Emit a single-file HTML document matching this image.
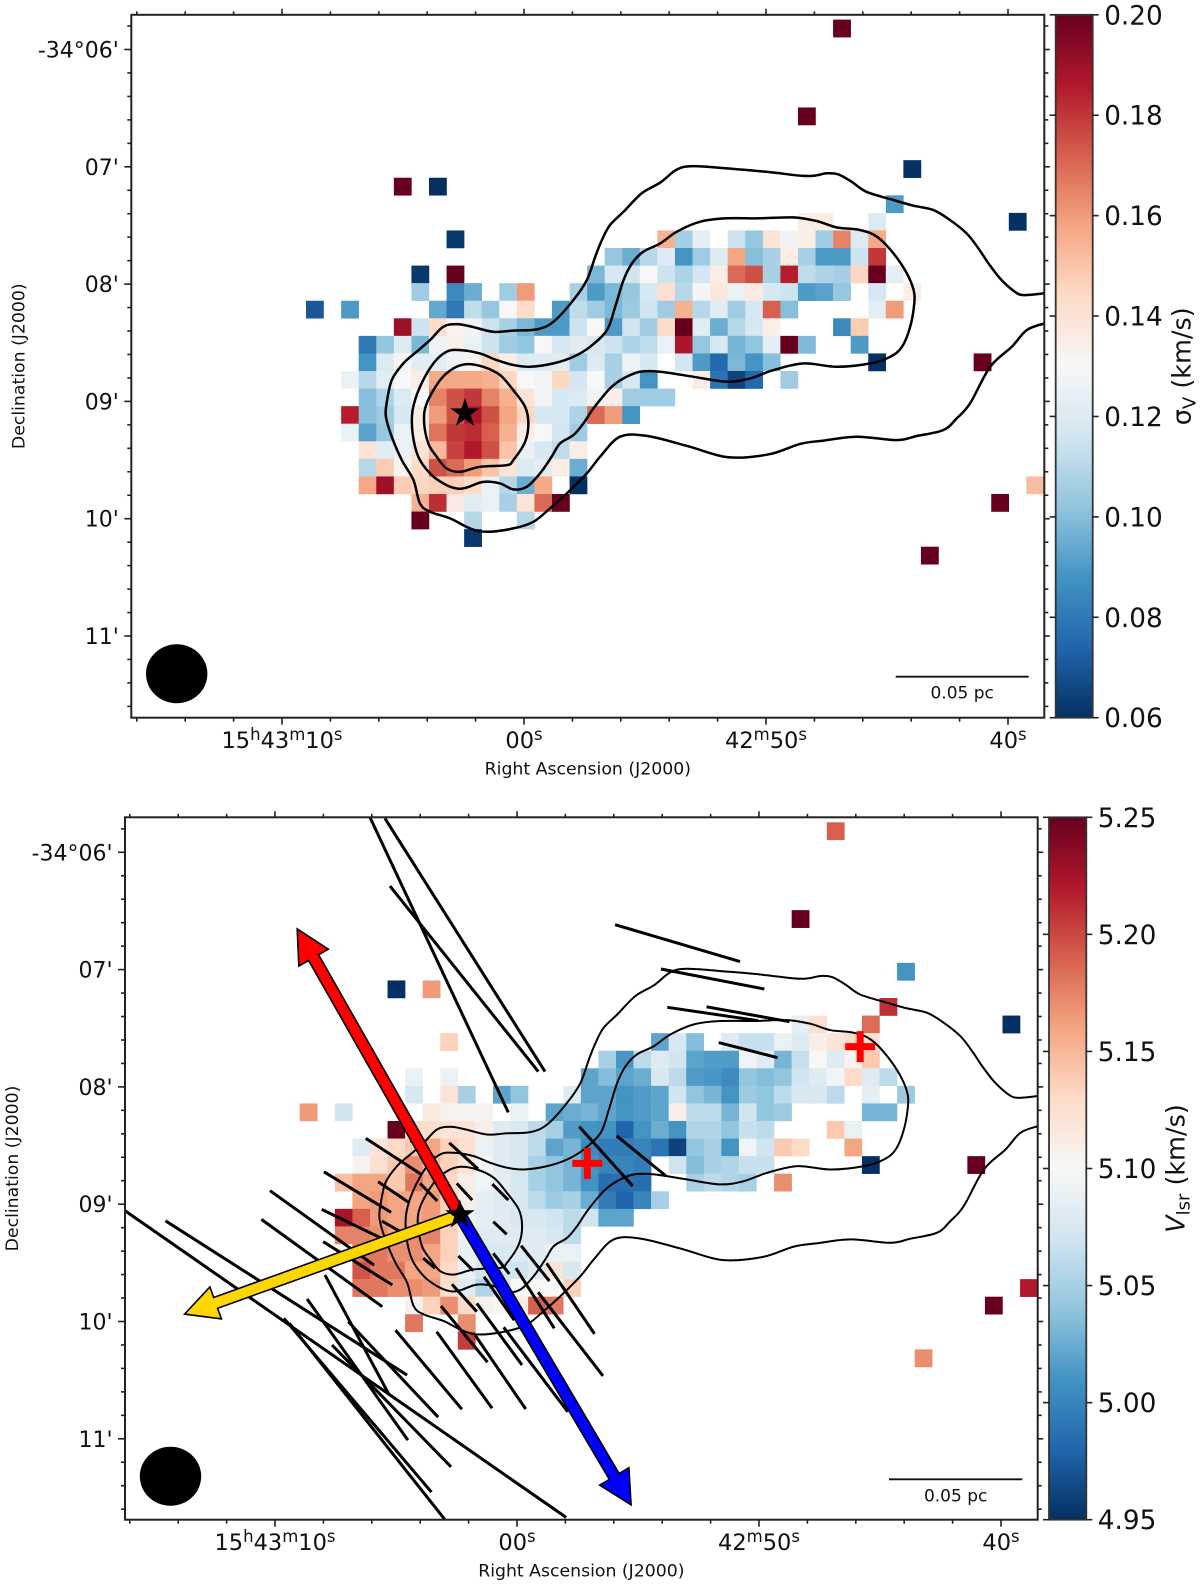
<!DOCTYPE html>
<html lang="en">
<head>
<meta charset="utf-8">
<title>Velocity dispersion and centroid velocity maps</title>
<style>
html,body{margin:0;padding:0;background:#fff;}
svg{display:block;font-family:"DejaVu Sans","Liberation Sans",sans-serif;}
</style>
</head>
<body>
<svg id="figure" xmlns="http://www.w3.org/2000/svg" width="1200" height="1586" viewBox="0 0 1200 1586">
  <defs id="defs"></defs>
  <g id="panel-top"></g>
  <g id="panel-bottom"></g>
</svg>
<script>
// ---------- chart data ----------
const sigmaTicks = [0.06, 0.08, 0.10, 0.12, 0.14, 0.16, 0.18, 0.20];
const sigmaTickLabels = ["0.06", "0.08", "0.10", "0.12", "0.14", "0.16", "0.18", "0.20"];
const vlsrTicks = [4.95, 5.00, 5.05, 5.10, 5.15, 5.20, 5.25];
const vlsrTickLabels = ["4.95", "5.00", "5.05", "5.10", "5.15", "5.20", "5.25"];
const raMajorSeconds = [0, 10, 20, 30];
const raTickLabels = [[["15","h"],["43","m"],["10","s"]], [["00","s"]], [["42","m"],["50","s"]], [["40","s"]]];
const decMajorArcmin = [0, 1, 2, 3, 4, 5];
const decTickLabels = ["-34°06'", "07'", "08'", "09'", "10'", "11'"];

// map rows: [row, firstColumn, value, value, ...]; null = blanked pixel
const sigmaRows = [
[0,30,.20],[5,28,.20],[8,34,.06],[9,5,.20,null,.06],[10,33,.09],
[11,28,.135,.135,null,null,.12],[11,40,.06],
[12,8,.062],[12,20,.155,.106,.123,null,.115,.103,.14,.127,.135,.105,.165,.12,.157],
[13,17,.103,.095,.11,.121,.088,.105,.12,.158,.10,.107,.135,.107,.09,.09,.115,.18],
[14,6,.062,null,.20],[14,16,.098,.118,.116,.13,.115,.108,.117,.135,.17,.175,.107,.185,.112,.108,.106,.145,.20,.123],
[15,6,.105,null,.085,.095,null,.105,.16,null,null,.107,.09,.098,.103,.118,.142,.11,.128,.138,.125,.137,.118,.115,.09,.092,.103,null,.118,null,.135],
[16,0,.07,null,.09],[16,7,.094,.08,.112,.103,.13,.143,null,.09,.112,.105,.098,.104,.116,.105,.155,.11,.122,.105,.118,.172,.10],[16,32,.123,.16],
[17,5,.19,.115,.143,.133,.127,.115,.107,.098,.09,.09,.115,.13,.09,.116,.105,.143,.20,.122,.095,.11,.118,.134],[17,30,.085,.148],
[18,3,.08,.102,.12,.098,.127,.134,.125,.115,.105,.102,.13,.118,.122,.118,.115,.108,.112,.125,.187,.103,.118,.097,.102,.123,.20,.099],[18,31,.09],
[19,3,.088,.12,.128,.122,.122,.127,.132,.145,.135,.12,.121,.122,.105,.12,.107,.127,.118,null,.117,.09,.075,.098,.088,.10],[19,32,.06],[19,38,.20],
[20,2,.125,.11,.122,.13,.135,.157,.157,.157,.155,.145,.13,.128,.145,.117,.13,.107,.118,.088,null,null,.135,.078,.065,.075,null,.105],
[21,3,.10,.108,.12,.13,.165,.175,.18,.165,.155,.14,.128,.118,.12,.127,.135,.105,.105,.105],
[22,2,.185,.10,.105,.118,.135,.16,.175,.187,.175,.158,.145,.118,.118,.108,.17,.16,.088],
[23,2,.125,.092,.103,.125,.135,.168,.18,.182,.172,.155,.135,.13,.117,.105],
[24,3,.14,.122,.125,.14,.153,.178,.186,.175,.15,.125,.118,.112,.135],
[25,3,.11,.148,.132,.143,.175,.17,.16,.15,.14,.12,.122,.135,.095],
[26,3,.157,.19,.148,.145,.147,.147,.143,.125,.11,.095,.157,null,.06],[26,41,.152],
[27,6,.155,.182,.136,.122,.125,.107,.14,.17,.20],[27,39,.20],
[28,6,.20,null,null,.11,null,null,.11],[29,9,.062],[30,35,.20]
];

const vlsrRows = [
[0,30,5.19],[5,28,5.25],[8,34,5.01],[9,5,4.95,null,5.165],[10,33,5.21],
[11,28,5.085,5.125,null,null,5.185],[11,40,4.95],
[12,8,5.135],[12,20,5.02,5.075,5.035,null,5.08,5.065,5.065,5.09,5.08,5.11,5.12,5.13,5.125],
[13,17,5.05,5.012,5.06,5.08,5.07,5.02,5.015,5.015,5.095,5.08,5.03,5.065,5.10,5.08,5.105,5.14],
[14,6,5.09,null,5.09],[14,16,5.02,5.035,5.02,5.025,5.075,5.06,5.015,5.012,5.005,5.04,5.035,5.04,5.07,5.08,5.095,5.13,5.08,5.06],
[15,6,5.075,null,5.12,5.05,null,5.02,5.04,null,null,5.08,5.02,5.02,5.01,5.015,5.02,5.07,5.04,5.03,5.01,5.045,5.04,5.06,5.075,5.075,5.06,null,5.085,null,5.045],
[16,0,5.165,null,5.07],[16,7,5.115,5.105,5.105,5.105,null,5.09,null,5.02,5.025,5.03,5.02,5.01,5.015,5.02,5.11,5.06,5.06,5.03,5.07,5.04,5.045],[16,32,5.03,5.03],
[17,5,5.25,5.13,5.125,5.12,5.12,5.11,5.08,5.075,5.06,5.05,5.015,5.01,5.01,4.98,5.01,5.025,5.01,5.055,5.055,5.04,5.065,5.06],[17,30,5.14,5.09],
[18,3,5.08,5.12,5.13,5.14,5.16,5.135,5.125,5.09,5.08,5.075,5.06,5.02,5.03,5.005,4.995,4.995,5.0,4.99,4.96,5.04,5.05,5.01,5.095,5.07,5.14,5.13],[18,31,5.16],
[19,3,5.105,5.125,5.14,5.17,5.15,5.135,5.12,5.095,5.08,5.075,5.05,5.04,5.03,5.01,5.0,5.0,4.995,null,5.07,5.035,5.05,5.055,5.065,5.065],[19,32,4.95],[19,38,5.25],
[20,2,5.145,5.16,5.16,5.14,5.18,5.16,5.13,5.11,5.095,5.085,5.075,5.05,5.04,5.03,5.01,4.985,4.985,4.985,null,null,5.05,5.06,5.055,5.05,null,5.17],
[21,3,5.16,5.165,5.16,5.16,5.165,5.135,5.11,5.085,5.08,5.075,5.06,5.045,5.05,5.025,4.995,4.98,5.0,5.05],
[22,2,5.225,5.19,5.165,5.16,5.16,5.165,5.135,5.095,5.085,5.08,5.075,5.075,5.07,5.06,5.07,5.02,5.02],
[23,2,5.175,5.175,5.17,5.16,5.17,5.175,5.135,5.09,5.08,5.08,5.08,5.08,5.075,5.06],
[24,3,5.18,5.18,5.17,5.17,5.16,5.135,5.09,5.075,5.075,5.08,5.08,5.09,5.09],
[25,3,5.195,5.18,5.18,5.16,5.16,5.13,5.09,5.07,5.07,5.07,5.08,5.12,5.075],
[26,3,5.18,5.18,5.17,5.17,5.165,5.125,5.08,5.055,5.07,5.10,5.10,5.10,5.135],[26,41,5.22],
[27,6,5.105,5.135,5.17,5.13,5.105,5.10,5.11,5.19,5.18],[27,39,5.25],
[28,6,5.18,null,null,5.17,null,null,5.09],[29,9,5.205],[30,35,5.17]
];

// intensity contours in map (column, row) coordinates
const contourOuter = [[42.03,15.58],[40.83,15.68],[40.26,15.43],[39.5,14.73],[38.84,13.87],[38.27,13.02],[37.6,12.17],[36.66,11.41],[35.71,10.84],[34.57,10.59],[33.43,10.27],[31.9,9.8],[31.06,9.23],[30.3,8.81],[29.64,8.75],[28.97,8.88],[28.2,8.89],[26.2,8.66],[23.96,8.47],[22.06,8.34],[21.11,8.53],[20.16,9.28],[19.1,9.89],[18.07,10.94],[17.3,11.69],[16.84,12.55],[16.46,13.5],[15.98,14.83],[15.22,15.96],[14.08,17.2],[13.13,17.63],[11.8,17.7],[10.66,17.77],[9.43,17.48],[8.58,17.33],[7.82,17.48],[7.06,18.24],[6.3,18.9],[5.54,19.57],[4.88,20.52],[4.59,21.85],[4.55,22.6],[4.88,23.74],[5.45,25.07],[6.11,26.2],[6.49,27.54],[7.06,28.01],[8.2,28.39],[9.34,28.96],[10.28,29.15],[11.8,28.96],[12.94,28.58],[13.89,27.82],[14.84,26.97],[15.98,25.83],[16.74,24.88],[17.87,23.74],[19.44,23.7],[21.74,24.28],[24.04,24.91],[26.35,24.74],[28.12,24.15],[29.45,23.96],[31.35,23.74],[33.62,23.93],[34.76,23.7],[36.28,23.36],[37.04,22.69],[37.8,21.84],[38.94,19.76],[40.17,18.62],[41.02,17.67],[42.03,17.29]];
const contourMiddle = [[14.08,19.57],[15.22,19.19],[16.17,18.62],[17.13,17.67],[17.6,16.34],[18.07,14.83],[18.55,13.88],[19.2,13.21],[20.16,12.74],[21.11,12.07],[22.44,11.5],[23.96,11.31],[25.85,11.31],[27.75,11.26],[29.08,11.47],[30.22,11.83],[31.55,11.98],[32.5,12.36],[33.44,13.31],[34.2,14.45],[34.58,15.39],[34.62,16.15],[34.39,17.48],[33.92,18.62],[33.25,19.19],[32.12,19.57],[30.22,19.76],[28.32,19.57],[26.61,19.95],[25.28,20.42],[23.96,20.61],[22.06,20.33],[20.16,20.04],[19.02,20.04],[18.07,20.42],[17.3,20.99],[16.36,22.13],[15.79,22.98],[15.22,23.65],[14.46,24.12],[13.98,24.88],[13.32,25.83],[12.56,26.59],[11.8,26.74],[11.04,26.4],[10.09,26.31],[9.15,26.63],[8.58,26.69],[7.82,26.4],[7.06,25.83],[6.39,24.88],[6.07,23.55],[6.07,22.23],[6.49,20.9],[7.25,19.57],[8.0,18.9],[8.77,18.81],[9.9,19.0],[10.85,19.38],[11.8,19.66],[12.75,19.76]];
const contourInner = [[6.72,22.89],[6.87,21.85],[7.63,20.52],[8.39,19.85],[9.15,19.61],[10.09,19.76],[11.04,20.23],[11.8,21.09],[12.47,22.04],[12.66,22.98],[12.47,24.03],[11.8,25.07],[11.42,25.36],[9.9,25.45],[8.77,25.74],[8.0,25.55],[7.44,24.88],[6.96,24.12]];

// polarization segments: [col1, row1, col2, row2]
const polarizationSegments = [
[4.0,-0.28,11.87,16.51],[4.85,-0.23,13.96,14.19],[5.14,3.63,13.58,14.19],[17.95,5.83,25.06,7.93],[20.56,8.35,26.44,9.49],
[20.92,10.53,26.1,11.29],[23.16,10.5,27.87,11.35],[23.85,12.54,27.2,13.4],[15.91,17.32,18.95,20.7],[18.04,17.85,20.85,20.13],
[3.76,17.99,6.9,20.02],[1.38,19.89,5.2,22.2],[4.47,20.46,6.24,21.65],[8.51,18.24,10.15,19.73],[6.32,18.12,7.7,19.11],
[6.85,20.55,7.83,21.55],[8.94,20.55,9.82,21.5],[10.96,20.59,11.87,21.5],[11.02,22.73,11.78,23.45],[4.67,22.69,5.81,23.34],
[1.25,22.03,4.67,23.68],[-1.69,20.97,4.23,25.2],[1.34,23.87,5.27,26.33],[-2.18,22.6,4.7,27.57],[7.03,24.81,7.7,25.38],
[9.03,24.68,9.88,25.52],[11.02,24.53,11.93,25.71],[12.6,24.1,14.21,26.11],[14.05,25.1,16.78,29.12],[12.31,25.38,14.49,28.8],
[8.66,26.29,10.08,27.85],[10.49,25.86,12.21,28.33],[13.57,26.75,17.26,31.51],[8.04,27.53,10.69,30.73],[10.08,27.38,12.65,30.89],
[11.61,28.74,15.26,33.55],[9.98,29.18,12.86,33.39],[7.8,28.99,10.95,33.35],[5.45,28.9,9.23,33.41],[2.76,28.42,7.88,33.86],
[1.44,25.77,5.1,32.6],[0.42,27.13,6.16,35.16],[1.84,29.75,8.61,36.68],[-0.9,28.23,7.5,38.13],[-0.59,28.51,8.25,39.67],
[-9.94,22.11,15.16,39.56],[-7.64,22.68,6.11,31.46]
];

const starPositionTop = [9.05, 22.4];
const starPositionBottom = [9.12, 22.35];
const crossPositions = [[31.9, 12.77], [16.37, 19.41]];
const outflowRedTip = [-0.14, 6.07];
const outflowBlueTip = [18.86, 38.85];
const magneticFieldTip = [-6.55, 27.99];

// RdBu_r colormap
const rdbu = [[5,48,97],[33,102,172],[67,147,195],[146,197,222],[209,229,240],[247,247,247],[253,219,199],[244,165,130],[214,96,77],[178,24,43],[103,0,31]];

// ---------- helpers ----------
const NS = "http://www.w3.org/2000/svg";
function make(parent, tag, attrs, text) {
  const el = document.createElementNS(NS, tag);
  for (const k in attrs) el.setAttribute(k, attrs[k]);
  if (text !== undefined) el.textContent = text;
  parent.appendChild(el);
  return el;
}
function colorAt(t) {
  t = Math.max(0, Math.min(1, t)) * 10;
  const i = Math.min(9, Math.floor(t)), f = t - i;
  const a = rdbu[i], b = rdbu[i + 1];
  return "rgb(" + a.map((v, j) => Math.round(v + (b[j] - v) * f)).join(",") + ")";
}
function smoothPath(points, closed, fx, fy) {
  const p = points.map(q => [fx(q[0]), fy(q[1])]);
  const n = p.length;
  const at = i => closed ? p[(i + n) % n] : p[Math.max(0, Math.min(n - 1, i))];
  let d = "M" + p[0][0].toFixed(1) + " " + p[0][1].toFixed(1);
  const last = closed ? n : n - 1;
  for (let i = 0; i < last; i++) {
    const p0 = at(i - 1), p1 = at(i), p2 = at(i + 1), p3 = at(i + 2);
    d += "C" + (p1[0] + (p2[0] - p0[0]) / 6).toFixed(1) + " " + (p1[1] + (p2[1] - p0[1]) / 6).toFixed(1) + " " +
         (p2[0] - (p3[0] - p1[0]) / 6).toFixed(1) + " " + (p2[1] - (p3[1] - p1[1]) / 6).toFixed(1) + " " +
         p2[0].toFixed(1) + " " + p2[1].toFixed(1);
  }
  return d + (closed ? "Z" : "");
}
function arrowPoints(ax, ay, bx, by, shaft, head, headLen) {
  const L = Math.hypot(bx - ax, by - ay), ux = (bx - ax) / L, uy = (by - ay) / L, nx = -uy, ny = ux;
  const cx = bx - ux * headLen, cy = by - uy * headLen;
  const pts = [
    [ax + nx * shaft / 2, ay + ny * shaft / 2], [cx + nx * shaft / 2, cy + ny * shaft / 2],
    [cx + nx * head / 2, cy + ny * head / 2], [bx, by],
    [cx - nx * head / 2, cy - ny * head / 2], [cx - nx * shaft / 2, cy - ny * shaft / 2],
    [ax - nx * shaft / 2, ay - ny * shaft / 2]
  ];
  return pts.map(q => q[0].toFixed(1) + "," + q[1].toFixed(1)).join(" ");
}
function starPoints(cx, cy, R) {
  const r = R * 0.382, out = [];
  for (let i = 0; i < 10; i++) {
    const a = -Math.PI / 2 + i * Math.PI / 5, m = i % 2 ? r : R;
    out.push((cx + m * Math.cos(a)).toFixed(1) + "," + (cy + m * Math.sin(a)).toFixed(1));
  }
  return out.join(" ");
}

// ---------- panel drawing ----------
const defs = document.getElementById("defs");
function drawPanel(cfg) {
  const g = document.getElementById(cfg.id);
  const cell = 17.57;
  const colX = c => cfg.cellX + c * cell;
  const rowY = r => cfg.cellY + r * cell;
  const raX = s => cfg.raZero + s * 24.2;
  const decY = m => cfg.decZero + m * 117.3;
  const cbY = v => cfg.bottom - (v - cfg.vMin) / (cfg.vMax - cfg.vMin) * (cfg.bottom - cfg.top);
  const norm = v => (v - cfg.vMin) / (cfg.vMax - cfg.vMin);

  const clip = make(defs, "clipPath", { id: cfg.id + "-clip" });
  make(clip, "rect", { x: cfg.left, y: cfg.top, width: cfg.right - cfg.left, height: cfg.bottom - cfg.top });
  const plot = make(g, "g", { "clip-path": "url(#" + cfg.id + "-clip)" });
  
  

  // heatmap
  const heat = make(plot, "g", {});
  
  
  cfg.rows.forEach(row => {
    for (let i = 2; i < row.length; i++) {
      if (row[i] === null) continue;
      const rect = make(heat, "rect", { x: colX(row[1] + i - 2).toFixed(2), y: rowY(row[0]).toFixed(2), width: cell + 0.25, height: cell + 0.25, fill: colorAt(norm(row[i])) });
      
      
    }
  });

  // contours
  [[contourOuter, false, "contour-outer"], [contourMiddle, true, "contour-middle"], [contourInner, true, "contour-inner"]].forEach(c => {
    const path = make(plot, "path", { d: smoothPath(c[0], c[1], colX, rowY), fill: "none", stroke: "#000", "stroke-width": cfg.contourWidth, "stroke-linejoin": "round" });
    
    
  });

  // polarization segments, arrows, crosses (bottom panel)
  if (cfg.overlays) {
    polarizationSegments.forEach(s => {
      const line = make(plot, "line", { x1: colX(s[0]).toFixed(1), y1: rowY(s[1]).toFixed(1), x2: colX(s[2]).toFixed(1), y2: rowY(s[3]).toFixed(1), stroke: "#000", "stroke-width": 3 });
      
      
    });
    const ax = colX(cfg.star[0]), ay = rowY(cfg.star[1]);
    [[outflowRedTip, "#ff0000", "redshifted-outflow-arrow"], [outflowBlueTip, "#0000ff", "blueshifted-outflow-arrow"], [magneticFieldTip, "#ffd700", "magnetic-field-arrow"]].forEach(a => {
      const poly = make(plot, "polygon", { points: arrowPoints(ax, ay, colX(a[0][0]), rowY(a[0][1]), 11.5, 34, 33), fill: a[1], stroke: "#000", "stroke-width": 1.6, "stroke-linejoin": "miter" });
      
      
    });
    crossPositions.forEach(p => {
      const cx = colX(p[0]), cy = rowY(p[1]);
      const cross = make(plot, "path", { d: "M" + (cx - 15) + " " + cy + "H" + (cx + 15) + "M" + cx + " " + (cy - 15.5) + "V" + (cy + 15.5), stroke: "#ff0000", "stroke-width": 7, fill: "none" });
      
      
    });
  }

  // protostar
  const star = make(plot, "polygon", { points: starPoints(colX(cfg.star[0]), rowY(cfg.star[1]), 15.5), fill: "#000" });
  
  

  // beam
  const beam = make(plot, "ellipse", { cx: cfg.beam[0], cy: cfg.beam[1], rx: 30.7, ry: 29.5, fill: "#000" });
  
  

  // scale bar
  const bar = make(plot, "line", { x1: cfg.scale[0], x2: cfg.scale[1], y1: cfg.scale[2], y2: cfg.scale[2], stroke: "#111", "stroke-width": 1.8 });
  
  
  const barText = make(plot, "text", { x: (cfg.scale[0] + cfg.scale[1]) / 2, y: cfg.scale[2] + 22, "text-anchor": "middle", "font-size": 17, fill: "#111" }, "0.05 pc");
  
  

  // frame
  const frame = make(g, "rect", { x: cfg.left, y: cfg.top, width: cfg.right - cfg.left, height: cfg.bottom - cfg.top, fill: "none", stroke: "#222", "stroke-width": 2 });
  
  

  // RA ticks
  const ticks = make(g, "g", { stroke: "#222", "stroke-width": 1.6 });
  
  
  for (let s = -6; s <= 36; s += 2) {
    const x = raX(s);
    if (x < cfg.left || x > cfg.right) continue;
    const major = raMajorSeconds.indexOf(s) >= 0;
    const t1 = make(ticks, "line", { x1: x, x2: x, y1: cfg.bottom, y2: cfg.bottom + (major ? 7 : 4) });
    
    
    const t2 = make(ticks, "line", { x1: x, x2: x, y1: cfg.top, y2: cfg.top - (major ? 6 : 3.5) });
    
    
  }
  for (let k = -1; k <= 28; k++) {
    const m = k / 5, y = decY(m);
    if (y < cfg.top || y > cfg.bottom) continue;
    const major = k % 5 === 0;
    const t1 = make(ticks, "line", { x1: cfg.left, x2: cfg.left - (major ? 7 : 4), y1: y, y2: y });
    
    
    const t2 = make(ticks, "line", { x1: cfg.right, x2: cfg.right + (major ? 5.5 : 4), y1: y, y2: y });
    
    
  }

  // RA labels
  raMajorSeconds.forEach((s, i) => {
    const t = make(g, "text", { x: raX(s), y: cfg.bottom + 30.5, "text-anchor": "middle", "font-size": 22.5, fill: "#111" });
    
    
    raTickLabels[i].forEach(part => {
      make(t, "tspan", {}, part[0]);
      make(t, "tspan", { "font-size": 16.5, dy: -8 }, part[1]);
      make(t, "tspan", { "font-size": 1, dy: 8 }, "\u200b");
    });
  });
  // Dec labels
  decMajorArcmin.forEach((m, i) => {
    const t = make(g, "text", { x: cfg.left - 12.5, y: decY(m) + 8, "text-anchor": "end", "font-size": 22, fill: "#111" }, decTickLabels[i]);
    
    
  });
  // axis titles
  const xt = make(g, "text", { x: (cfg.left + cfg.right) / 2, y: cfg.bottom + 57, "text-anchor": "middle", "font-size": 17.3, fill: "#111" }, "Right Ascension (J2000)");
  
  
  const yCenter = (cfg.top + cfg.bottom) / 2;
  const yt = make(g, "text", { x: cfg.left - 107, y: yCenter, "text-anchor": "middle", "font-size": 17.3, fill: "#111", transform: "rotate(-90 " + (cfg.left - 107) + " " + yCenter + ")" }, "Declination (J2000)");
  
  

  // colorbar
  const gradId = cfg.id + "-grad";
  const grad = make(defs, "linearGradient", { id: gradId, x1: 0, y1: 1, x2: 0, y2: 0 });
  rdbu.forEach((c, i) => make(grad, "stop", { offset: i / 10, "stop-color": "rgb(" + c.join(",") + ")" }));
  const cb = make(g, "rect", { x: cfg.cbLeft, y: cfg.top, width: cfg.cbRight - cfg.cbLeft, height: cfg.bottom - cfg.top, fill: "url(#" + gradId + ")", stroke: "#333", "stroke-width": 1.8 });
  
  
  cfg.cbTicks.forEach((v, i) => {
    const y = cbY(v);
    const tl = make(g, "line", { x1: cfg.cbLeft - 6, x2: cfg.cbLeft, y1: y, y2: y, stroke: "#222", "stroke-width": 1.6 });
    
    
    const tr = make(g, "line", { x1: cfg.cbRight, x2: cfg.cbRight + 6, y1: y, y2: y, stroke: "#222", "stroke-width": 1.6 });
    
    
    const lab = make(g, "text", { x: cfg.cbRight + 11.5, y: y + 9.5, "font-size": 26.3, fill: "#111" }, cfg.cbLabels[i]);
    
    
  });
  // colorbar title
  const tx = cfg.cbTitleX;
  const title = make(g, "text", { x: tx, y: yCenter, "text-anchor": "middle", "font-size": 25.5, fill: "#111", transform: "rotate(-90 " + tx + " " + yCenter + ")" });
  
  
  make(title, "tspan", cfg.cbSymbolStyle, cfg.cbSymbol);
  make(title, "tspan", { "font-size": 18, dy: 5 }, cfg.cbSub);
  make(title, "tspan", { dy: -5 }, " (km/s)");
}

drawPanel({
  id: "panel-top", left: 131.3, right: 1044.3, top: 14.8, bottom: 717.7,
  cellX: 306, cellY: 19.6, raZero: 282, decZero: 49.5,
  rows: sigmaRows, vMin: 0.06, vMax: 0.20, cbTicks: sigmaTicks, cbLabels: sigmaTickLabels,
  cbLeft: 1055.7, cbRight: 1092.7, cbTitleX: 1190.5, cbSymbol: "σ", cbSymbolStyle: {}, cbSub: "V",
  star: starPositionTop, beam: [176.7, 673.8], scale: [895.7, 1028.7, 676.7], contourWidth: 2.5, overlays: false
});
drawPanel({
  id: "panel-bottom", left: 125, right: 1037.7, top: 817.3, bottom: 1519.7,
  cellX: 299.7, cellY: 822.3, raZero: 275, decZero: 852.3,
  rows: vlsrRows, vMin: 4.95, vMax: 5.25, cbTicks: vlsrTicks, cbLabels: vlsrTickLabels,
  cbLeft: 1049, cbRight: 1086.3, cbTitleX: 1184.5, cbSymbol: "V", cbSymbolStyle: { "font-style": "italic" }, cbSub: "lsr",
  star: starPositionBottom, beam: [170.5, 1476.3], scale: [889, 1022.3, 1479.3], contourWidth: 2, overlays: true
});
</script>
</body>
</html>
